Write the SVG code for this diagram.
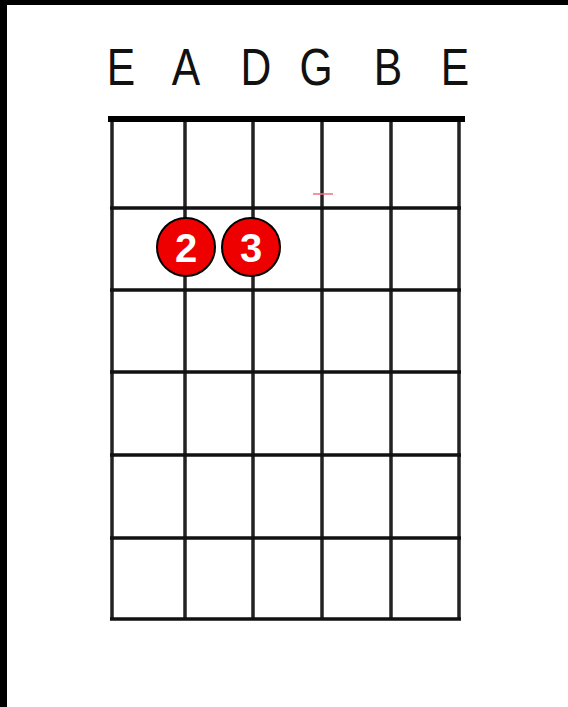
<svg xmlns="http://www.w3.org/2000/svg" width="568" height="707" viewBox="0 0 568 707">
<style>
.lbl{font-family:"Liberation Sans",Arial,sans-serif;font-size:52px;fill:#111;text-anchor:middle}
.str{stroke:#222;stroke-width:3.5}
.fret{stroke:#111;stroke-width:3.5}
.dot{fill:#ee0000;stroke:#000;stroke-width:2}
.num{font-family:"Liberation Sans",Arial,sans-serif;font-size:40px;font-weight:bold;fill:#fff;text-anchor:middle}
</style>
<rect width="568" height="707" fill="#fff"/>
<rect x="0" y="0" width="7" height="707" fill="#000"/>
<rect x="0" y="0" width="568" height="5" fill="#000"/>
<g id="labels">
<text class="lbl" transform="translate(121 85) scale(0.82 1)">E</text>
<text class="lbl" transform="translate(186 85) scale(0.82 1)">A</text>
<text class="lbl" transform="translate(256 85) scale(0.82 1)">D</text>
<text class="lbl" transform="translate(316 85) scale(0.82 1)">G</text>
<text class="lbl" transform="translate(388 85) scale(0.82 1)">B</text>
<text class="lbl" transform="translate(455 85) scale(0.82 1)">E</text>
</g>
<g id="grid">
<line class="str" x1="112" y1="119" x2="112" y2="620"/>
<line class="str" x1="185" y1="119" x2="185" y2="620"/>
<line class="str" x1="253" y1="119" x2="253" y2="620"/>
<line class="str" x1="322" y1="119" x2="322" y2="620" stroke="#444" stroke-width="4"/>
<line class="str" x1="391" y1="119" x2="391" y2="620"/>
<line class="str" x1="459" y1="119" x2="459" y2="620"/>
<line class="fret" x1="110" y1="208" x2="461" y2="208"/>
<line class="fret" x1="110" y1="290" x2="461" y2="290"/>
<line class="fret" x1="110" y1="372" x2="461" y2="372"/>
<line class="fret" x1="110" y1="455" x2="461" y2="455"/>
<line class="fret" x1="110" y1="538" x2="461" y2="538"/>
<line class="fret" x1="110" y1="619" x2="461" y2="619"/>
<rect x="108" y="116" width="357" height="6" fill="#000"/>
<line x1="313" y1="194" x2="333" y2="194" stroke="#f07080" stroke-width="1.5"/>
</g>
<g id="finger2">
<circle class="dot" cx="186" cy="247" r="29"/>
<text class="num" x="186" y="262">2</text>
</g>
<g id="finger3">
<circle class="dot" cx="251" cy="247" r="29"/>
<text class="num" x="251" y="262">3</text>
</g>
</svg>
